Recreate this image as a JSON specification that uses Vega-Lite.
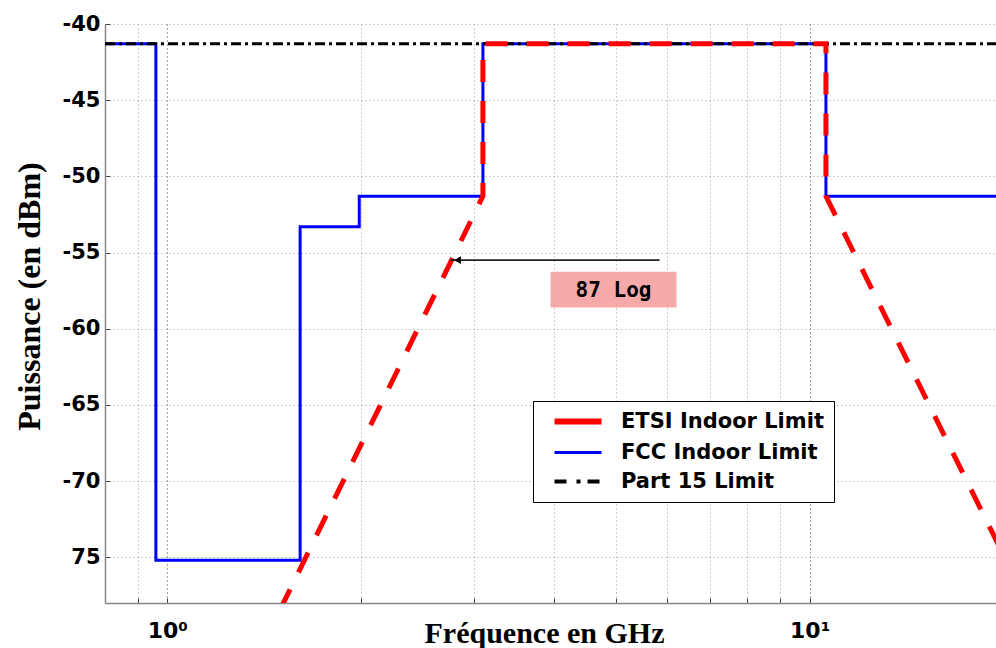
{
  "$schema": "https://vega.github.io/schema/vega-lite/v6.json",
  "width": 891,
  "height": 579,
  "autosize": {"type": "none"},
  "padding": {"left": 105, "top": 24, "right": 0, "bottom": 45},
  "background": "white",
  "config": {"view": {"stroke": null}},
  "datasets": {
    "lines": [
      {"series": "Part 15 Limit", "i": 0, "x": 0.8, "y": -41.3},
      {"series": "Part 15 Limit", "i": 1, "x": 19.5, "y": -41.3},
      {"series": "FCC Indoor Limit", "i": 0, "x": 0.8, "y": -41.3},
      {"series": "FCC Indoor Limit", "i": 1, "x": 0.96, "y": -41.3},
      {"series": "FCC Indoor Limit", "i": 2, "x": 0.96, "y": -75.2},
      {"series": "FCC Indoor Limit", "i": 3, "x": 1.61, "y": -75.2},
      {"series": "FCC Indoor Limit", "i": 4, "x": 1.61, "y": -53.3},
      {"series": "FCC Indoor Limit", "i": 5, "x": 1.99, "y": -53.3},
      {"series": "FCC Indoor Limit", "i": 6, "x": 1.99, "y": -51.3},
      {"series": "FCC Indoor Limit", "i": 7, "x": 3.1, "y": -51.3},
      {"series": "FCC Indoor Limit", "i": 8, "x": 3.1, "y": -41.3},
      {"series": "FCC Indoor Limit", "i": 9, "x": 10.6, "y": -41.3},
      {"series": "FCC Indoor Limit", "i": 10, "x": 10.6, "y": -51.3},
      {"series": "FCC Indoor Limit", "i": 11, "x": 19.5, "y": -51.3},
      {"series": "ETSI Indoor Limit", "i": 0, "x": 1.5, "y": -78.4},
      {"series": "ETSI Indoor Limit", "i": 1, "x": 3.1, "y": -51.3},
      {"series": "ETSI Indoor Limit", "i": 2, "x": 3.1, "y": -41.3},
      {"series": "ETSI Indoor Limit", "i": 3, "x": 10.6, "y": -41.3},
      {"series": "ETSI Indoor Limit", "i": 4, "x": 10.6, "y": -51.3},
      {"series": "ETSI Indoor Limit", "i": 5, "x": 20, "y": -74.8}
    ],
    "notes": [
      {"kind": "arrow", "x": 2.76, "x2": 5.84, "y": -55.5},
      {"kind": "head", "x": 2.83, "y": -55.5},
      {"kind": "box", "x": 3.95, "x2": 6.205, "y": -56.26, "y2": -58.6},
      {"kind": "label", "x": 4.95, "y": -57.9, "text": "87 Log"}
    ]
  },
  "encoding": {
    "x": {
      "field": "x", "type": "quantitative",
      "scale": {"type": "log", "domain": [0.8, 19.5], "nice": false},
      "axis": {
        "values": [0.8, 0.9, 1, 2, 3, 4, 5, 6, 7, 8, 9, 10],
        "labelExpr": "datum.value == 1 ? '10⁰' : datum.value == 10 ? '10¹' : ''",
        "labelOverlap": false, "labelFlush": false,
        "title": "Fréquence en GHz",
        "grid": true, "gridDash": [1, 3], "gridWidth": 1,
        "gridColor": {"condition": {"test": "datum.value == 1 || datum.value == 10", "value": "#444444"}, "value": "#9a9a9a"},
        "domainColor": "#888888", "domainWidth": 1.5,
        "ticks": true, "tickSize": -5, "tickColor": "#444444",
        "labelFont": "DejaVu Sans", "labelFontWeight": "bold", "labelFontSize": 22, "labelColor": "#000000",
        "labelPadding": 22,
        "titleFont": "Liberation Serif", "titleFontWeight": "bold", "titleFontSize": 30, "titleColor": "#000000",
        "titleX": 439, "titleY": 39, "titleBaseline": "alphabetic", "titleAlign": "center"
      }
    },
    "y": {
      "field": "y", "type": "quantitative",
      "scale": {"domain": [-78, -40], "nice": false, "zero": false},
      "axis": {
        "values": [-75, -70, -65, -60, -55, -50, -45, -40],
        "labelExpr": "datum.value == -75 ? '75' : '' + datum.value",
        "title": "Puissance (en  dBm)",
        "grid": true, "gridDash": [1, 3], "gridWidth": 1, "gridColor": "#9a9a9a",
        "domainColor": "#888888", "domainWidth": 1.5,
        "ticks": true, "tickSize": -5, "tickColor": "#444444",
        "labelFont": "DejaVu Sans", "labelFontWeight": "bold", "labelFontSize": 21, "labelColor": "#000000",
        "labelPadding": 10,
        "titleFont": "Liberation Serif", "titleFontWeight": "bold", "titleFontSize": 32, "titleColor": "#000000",
        "titleAngle": -90, "titleX": -66, "titleY": 272, "titleBaseline": "alphabetic", "titleAlign": "center"
      }
    }
  },
  "layer": [
    {
      "data": {"name": "lines"},
      "transform": [{"filter": "datum.series === 'FCC Indoor Limit'"}],
      "mark": {"type": "line", "strokeWidth": 3, "clip": true},
      "encoding": {
        "order": {"field": "i", "type": "quantitative"},
        "color": {
          "field": "series", "type": "nominal",
          "scale": {"domain": ["ETSI Indoor Limit", "FCC Indoor Limit", "Part 15 Limit"], "range": ["#ff0000", "#0000ff", "#000000"]},
          "legend": {
            "title": null, "orient": "none", "legendX": 428, "legendY": 377, "direction": "vertical",
            "fillColor": "white", "strokeColor": "black", "padding": 10,
            "symbolType": "M-2,0H2.7", "symbolSize": 400, "symbolOffset": 21,
            "labelFont": "DejaVu Sans", "labelFontWeight": "bold", "labelFontSize": 21, "labelColor": "#000000",
            "labelOffset": 36, "rowPadding": 7, "labelLimit": 400,
            "labelExpr": "datum.label + '\u00a0\u00a0'",
            "encode": {"symbols": {"update": {
              "strokeDash": {"signal": "datum.value === 'Part 15 Limit' ? [12, 10, 4, 7] : [1, 0]"},
              "strokeWidth": {"signal": "datum.value === 'ETSI Indoor Limit' ? 6 : datum.value === 'FCC Indoor Limit' ? 3 : 4"}
            }}}
          }
        }
      }
    },
    {
      "data": {"name": "lines"},
      "transform": [{"filter": "datum.series === 'Part 15 Limit'"}],
      "mark": {"type": "line", "strokeWidth": 3, "strokeDash": [10, 4, 3, 4], "clip": true},
      "encoding": {
        "order": {"field": "i", "type": "quantitative"},
        "color": {
          "field": "series", "type": "nominal",
          "scale": {"domain": ["ETSI Indoor Limit", "FCC Indoor Limit", "Part 15 Limit"], "range": ["#ff0000", "#0000ff", "#000000"]},
          "legend": {
            "title": null, "orient": "none", "legendX": 428, "legendY": 377, "direction": "vertical",
            "fillColor": "white", "strokeColor": "black", "padding": 10,
            "symbolType": "M-2,0H2.7", "symbolSize": 400, "symbolOffset": 21,
            "labelFont": "DejaVu Sans", "labelFontWeight": "bold", "labelFontSize": 21, "labelColor": "#000000",
            "labelOffset": 36, "rowPadding": 7, "labelLimit": 400,
            "labelExpr": "datum.label + '\u00a0\u00a0'",
            "encode": {"symbols": {"update": {
              "strokeDash": {"signal": "datum.value === 'Part 15 Limit' ? [12, 10, 4, 7] : [1, 0]"},
              "strokeWidth": {"signal": "datum.value === 'ETSI Indoor Limit' ? 6 : datum.value === 'FCC Indoor Limit' ? 3 : 4"}
            }}}
          }
        }
      }
    },
    {
      "data": {"name": "lines"},
      "transform": [{"filter": "datum.series === 'ETSI Indoor Limit'"}],
      "mark": {"type": "line", "strokeWidth": 5, "strokeDash": [22, 19], "clip": true},
      "encoding": {
        "order": {"field": "i", "type": "quantitative"},
        "color": {
          "field": "series", "type": "nominal",
          "scale": {"domain": ["ETSI Indoor Limit", "FCC Indoor Limit", "Part 15 Limit"], "range": ["#ff0000", "#0000ff", "#000000"]},
          "legend": {
            "title": null, "orient": "none", "legendX": 428, "legendY": 377, "direction": "vertical",
            "fillColor": "white", "strokeColor": "black", "padding": 10,
            "symbolType": "M-2,0H2.7", "symbolSize": 400, "symbolOffset": 21,
            "labelFont": "DejaVu Sans", "labelFontWeight": "bold", "labelFontSize": 21, "labelColor": "#000000",
            "labelOffset": 36, "rowPadding": 7, "labelLimit": 400,
            "labelExpr": "datum.label + '\u00a0\u00a0'",
            "encode": {"symbols": {"update": {
              "strokeDash": {"signal": "datum.value === 'Part 15 Limit' ? [12, 10, 4, 7] : [1, 0]"},
              "strokeWidth": {"signal": "datum.value === 'ETSI Indoor Limit' ? 6 : datum.value === 'FCC Indoor Limit' ? 3 : 4"}
            }}}
          }
        }
      }
    },
    {
      "data": {"name": "notes"},
      "transform": [{"filter": "datum.kind === 'box'"}],
      "mark": {"type": "rect", "fill": "#f4a0a0", "opacity": 0.9},
      "encoding": {"x2": {"field": "x2"}, "y2": {"field": "y2"}}
    },
    {
      "data": {"name": "notes"},
      "transform": [{"filter": "datum.kind === 'label'"}],
      "mark": {"type": "text", "font": "DejaVu Sans Mono", "fontWeight": "bold", "fontSize": 21, "baseline": "alphabetic", "align": "center", "color": "#000000"},
      "encoding": {"text": {"field": "text"}}
    },
    {
      "data": {"name": "notes"},
      "transform": [{"filter": "datum.kind === 'arrow'"}],
      "mark": {"type": "rule", "color": "#222222", "strokeWidth": 1.8},
      "encoding": {"x2": {"field": "x2"}}
    },
    {
      "data": {"name": "notes"},
      "transform": [{"filter": "datum.kind === 'head'"}],
      "mark": {"type": "point", "shape": "triangle-left", "filled": true, "color": "#000000", "size": 60, "opacity": 1},
      "encoding": {}
    }
  ]
}
